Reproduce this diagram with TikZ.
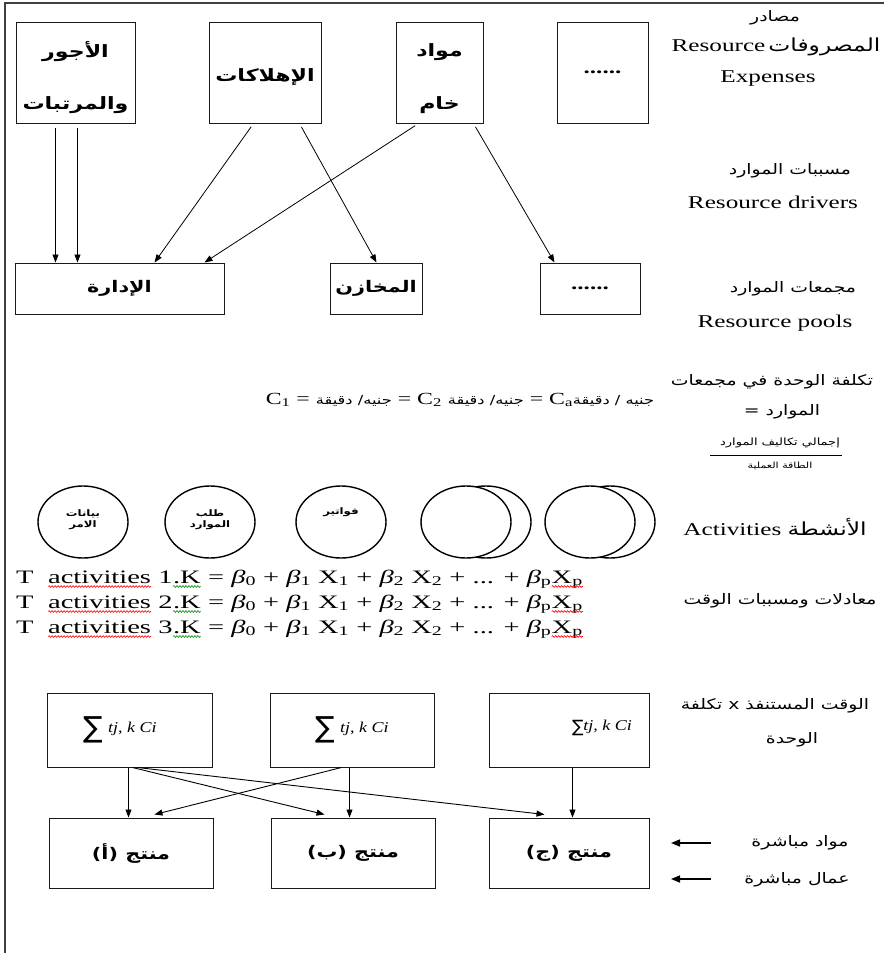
\documentclass[tikz,border=0pt]{standalone}
\usepackage{fontspec}
\usepackage{graphicx}
\usetikzlibrary{arrows.meta,shapes.geometric,decorations.pathmorphing}
\TeXXeTstate=1
\setmainfont{Liberation Serif}[FakeStretch=1.4]
\newfontfamily\eqfont{Liberation Serif}[FakeStretch=1.5]
\newfontfamily\sumfont{Liberation Serif}[FakeStretch=1.2]
\newfontfamily\dv{DejaVu Sans}
\newfontfamily\ar[Script=Arabic,FakeStretch=1.3]{DejaVu Sans}
\newcommand\wavy[2]{\tikz[baseline=(wv.base),x=1pt,y=1pt]{\node[inner sep=0pt,outer sep=0pt,anchor=base] (wv) {#2};\draw[#1,line width=0.6pt,decorate,decoration={snake,amplitude=0.9pt,segment length=3pt}] ([yshift=-3.5pt]wv.base west) -- ([yshift=-3.5pt]wv.base east);}}
\newcommand\AR[1]{{\ar\beginR #1\endR}}
\newcommand\eqline[1]{T\ \ \wavy{red}{activities} #1\wavy{green!55!black}{.K} = \textit{β}\textsubscript{0} + \textit{β}\textsubscript{1} X\textsubscript{1} + \textit{β}\textsubscript{2} X\textsubscript{2} + ... + \textit{β}\textsubscript{p}\wavy{red}{X\textsubscript{p}}}
\newcommand\sumbig{{\fontsize{29}{29}\selectfont\dv\raisebox{-0.17em}{∑}}\hspace{5pt}{\fontsize{15}{18}\selectfont\sumfont\itshape tj, k Ci}}
\newcommand\sumsmall{{\fontsize{17}{17}\selectfont\dv\raisebox{-0.1em}{∑}}{\fontsize{15}{18}\selectfont\sumfont\itshape tj, k Ci}}
\begin{document}
\begin{tikzpicture}[x=1pt,y=-1pt,
  box/.style={draw=black!90, line width=1pt, inner sep=0pt},
  arr/.style={-{Triangle[length=8pt,width=6pt]}, line width=0.8pt, shorten <=4pt},
  bigarr/.style={-{Triangle[length=9pt,width=7pt]}, line width=1.6pt},
  artxt/.style={font=\fontsize{17}{20}\selectfont\bfseries\ar, inner sep=0pt},
  lbl/.style={font=\fontsize{18}{21}\selectfont, inner sep=0pt},
  arl/.style={font=\fontsize{14.5}{17}\selectfont\ar, inner sep=0pt},
  circ/.style={draw=black, line width=1.4pt, ellipse, minimum width=90pt, minimum height=72pt, inner sep=0pt, fill=white},
  ctxt/.style={font=\fontsize{9}{11}\selectfont\bfseries\ar, inner sep=0pt, align=center},
  eqt/.style={font=\fontsize{19}{22}\selectfont\eqfont, inner sep=0pt, anchor=base west}
]
\useasboundingbox (0,0) rectangle (884,953);
% frame
\draw[line width=1.5pt, black!75] (5,953) -- (5,3) -- (884,3);

% top row: resource expenses
\node[box, minimum width=119pt, minimum height=101pt] (b1) at (75.5,72.5) {};
\node[artxt] (b1a) at (75.5,52) {\beginR الأجور\endR};
\node[artxt] (b1b) at (75.5,105) {\beginR والمرتبات\endR};
\node[box, minimum width=112pt, minimum height=101pt] (b2) at (265,72.5) {};
\node[artxt] (b2a) at (265,77) {\beginR الإهلاكات\endR};
\node[box, minimum width=87pt, minimum height=101pt] (b3) at (439.5,72.5) {};
\node[artxt] (b3a) at (439.5,52) {\beginR مواد\endR};
\node[artxt] (b3b) at (439.5,105) {\beginR خام\endR};
\node[box, minimum width=91pt, minimum height=101pt, font=\fontsize{18}{20}\selectfont\bfseries] (b4) at (602.5,72.5) {......};

% resource pools
\node[box, minimum width=209pt, minimum height=51pt, font=\fontsize{16}{20}\selectfont\bfseries\ar] (m1) at (119.5,288.5) {\beginR الإدارة\endR};
\node[box, minimum width=92pt, minimum height=51pt, font=\fontsize{16}{20}\selectfont\bfseries\ar] (m2) at (376,288.5) {\beginR المخازن\endR};
\node[box, minimum width=100pt, minimum height=51pt, font=\fontsize{18}{20}\selectfont\bfseries] (m3) at (590,288.5) {......};

% resource drivers arrows
\draw[arr] ([xshift=40pt]b1.south west) -- ([xshift=41pt]m1.north west);
\draw[arr] ([xshift=62pt]b1.south west) -- ([xshift=63pt]m1.north west);
\draw[arr] ([xshift=45pt]b2.south west) -- ([xshift=140pt]m1.north west);
\draw[arr] ([xshift=91pt]b2.south west) -- ([xshift=47pt]m2.north west);
\draw[arr] ([xshift=23pt]b3.south west) -- ([xshift=190pt]m1.north west);
\draw[arr] ([xshift=78pt]b3.south west) -- ([xshift=15pt]m3.north west);

% right-hand labels
\node[arl] (l1) at (775,18) {\beginR مصادر\endR};
\node[lbl] (l2) at (776,47) {Resource\,\AR{المصروفات}};
\node[lbl] (l3) at (768,79) {Expenses};
\node[arl] (l4) at (790,171) {\beginR مسببات الموارد\endR};
\node[lbl] (l5) at (773,202) {Resource drivers};
\node[arl] (l6) at (793,289) {\beginR مجمعات الموارد\endR};
\node[lbl] (l7) at (775,323) {Resource pools};
\node[arl] (l8) at (772,382) {\beginR تكلفة الوحدة في مجمعات\endR};
\node[arl] (l9) at (782,412) {\beginR الموارد =\endR};
\node[font=\fontsize{10}{12}\selectfont\ar, inner sep=0pt] (l10) at (780,443) {\beginR إجمالي تكاليف الموارد\endR};
\coordinate (fr1) at (710,455);
\coordinate (fr2) at (842,455);
\draw[line width=0.8pt] (fr1) -- (fr2);
\node[font=\fontsize{8.5}{10}\selectfont\ar, inner sep=0pt] (l11) at (780,466) {\beginR الطاقة العملية\endR};
\node[lbl] (l12) at (775,527) {Activities \AR{الأنشطة}};
\node[arl] (l13) at (780,601) {\beginR معادلات ومسببات الوقت\endR};
\node[arl] (l14) at (775,706) {\beginR الوقت المستنفذ x تكلفة\endR};
\node[arl] (l15) at (792,740) {\beginR الوحدة\endR};
\node[arl] (l16) at (800,843) {\beginR مواد مباشرة\endR};
\node[arl] (l17) at (797,880) {\beginR عمال مباشرة\endR};

% unit cost line
\node[font=\fontsize{17}{20}\selectfont, inner sep=0pt] (uc) at (460,400)
  {C\textsubscript{1} = {\fontsize{12.5}{14}\selectfont\AR{جنيه/ دقيقة}} = C\textsubscript{2} {\fontsize{12.5}{14}\selectfont\AR{جنيه/ دقيقة}} = C\textsubscript{a}{\fontsize{12.5}{14}\selectfont\AR{جنيه / دقيقة}}};

% activities
\node[circ] (c5r) at (610,522) {};
\node[circ] (c5) at (590,522) {};
\node[circ] (c4r) at (486,522) {};
\node[circ] (c4) at (466,522) {};
\node[circ] (c1) at (83,522) {};
\node[ctxt] (c1t) at (83,520) {\beginR بيانات\endR\\\beginR الامر\endR};
\node[circ] (c2) at (210,522) {};
\node[ctxt] (c2t) at (210,520) {\beginR طلب\endR\\\beginR الموارد\endR};
\node[circ] (c3) at (341,522) {};
\node[ctxt] (c3t) at (341,512) {\beginR فواتير\endR};

% time equations
\node[eqt] (e1) at (16,583) {\eqline{1}};
\node[eqt] (e2) at (16,608) {\eqline{2}};
\node[eqt] (e3) at (16,633) {\eqline{3}};

% cost boxes
\node[box, minimum width=165pt, minimum height=74pt] (s1) at (129.5,730) {};
\node[inner sep=0pt] (s1t) at (120,730) {\sumbig};
\node[box, minimum width=164pt, minimum height=74pt] (s2) at (352,730) {};
\node[inner sep=0pt] (s2t) at (352,730) {\sumbig};
\node[box, minimum width=160pt, minimum height=74pt] (s3) at (569,730) {};
\node[inner sep=0pt] (s3t) at (602,728) {\sumsmall};

% products
\node[box, minimum width=164pt, minimum height=70pt, font=\fontsize{16}{20}\selectfont\bfseries\ar] (p1) at (131,853) {\beginR منتج (أ)\endR};
\node[box, minimum width=164pt, minimum height=70pt, font=\fontsize{16}{20}\selectfont\bfseries\ar] (p2) at (353,853) {\beginR منتج (ب)\endR};
\node[box, minimum width=160pt, minimum height=70pt, font=\fontsize{16}{20}\selectfont\bfseries\ar] (p3) at (569,853) {\beginR منتج (ج)\endR};

% cost assignment arrows
\tikzset{arr2/.style={-{Triangle[length=8pt,width=6pt]}, line width=0.9pt}}
\draw[arr2] ([xshift=82pt]s1.south west) -- ([xshift=80pt]p1.north west);
\draw[arr2] ([xshift=86pt]s1.south west) -- ([xshift=54pt,yshift=3pt]p2.north west);
\draw[arr2] ([xshift=91pt]s1.south west) -- ([xshift=56pt,yshift=3pt]p3.north west);
\draw[arr2] ([xshift=72pt]s2.south west) -- ([xshift=106pt,yshift=3pt]p1.north west);
\draw[arr2] ([xshift=80pt]s2.south west) -- ([xshift=79pt]p2.north west);
\draw[arr2] ([xshift=84pt]s3.south west) -- ([xshift=84pt]p3.north west);

% direct inputs
\coordinate (dm1) at (711,843);
\coordinate (dm2) at (671,843);
\coordinate (dl1) at (711,879);
\coordinate (dl2) at (671,879);
\draw[bigarr] (dm1) -- (dm2);
\draw[bigarr] (dl1) -- (dl2);
\end{tikzpicture}
\end{document}
